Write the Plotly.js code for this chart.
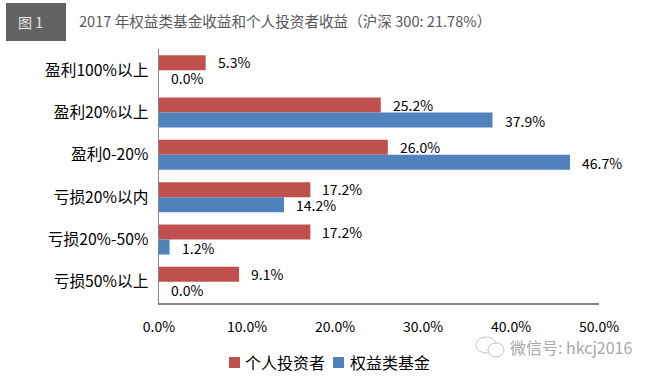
<!DOCTYPE html>
<html><head><meta charset="utf-8">
<script src="https://cdn.plot.ly/plotly-3.0.0.min.js"></script>
<style>html,body{margin:0;padding:0;background:#fff}#c{width:654px;height:377px}</style></head>
<body><div id="c"></div>
<script>
const categories = ["盈利100%以上","盈利20%以上","盈利0-20%","亏损20%以内","亏损20%-50%","亏损50%以上"];
const retail = [5.3,25.2,26.0,17.2,17.2,9.1];
const fund = [0.0,37.9,46.7,14.2,1.2,0.0];
const seriesNames = ["个人投资者","权益类基金"];
const xTicks = [0,10,20,30,40,50];
const chartTitle = "2017 年权益类基金收益和个人投资者收益（沪深 300: 21.78%）";
const badge = "图 1";
const watermark = "微信号: hkcj2016";
const font = "'Noto Sans CJK SC','Liberation Sans',sans-serif";
const RED="#C0504D", BLUE="#4F81BD";
const fmt = v => v.toFixed(1)+"%";
const labels = [];
categories.forEach((c,i)=>{
  labels.push({x:retail[i],y:c,text:fmt(retail[i]),xref:'x',yref:'y',xanchor:'left',yanchor:'middle',showarrow:false,xshift:10,yshift:8,font:{size:14,color:'#000',family:font}});
  labels.push({x:fund[i],y:c,text:fmt(fund[i]),xref:'x',yref:'y',xanchor:'left',yanchor:'middle',showarrow:false,xshift:10,yshift:-8,font:{size:14,color:'#000',family:font}});
});
const data = [
 {type:'bar',orientation:'h',name:seriesNames[0],y:categories,x:retail,marker:{color:RED},hoverinfo:'none'},
 {type:'bar',orientation:'h',name:seriesNames[1],y:categories,x:fund,marker:{color:BLUE},hoverinfo:'none'}
];
const box = {xref:'x domain',yref:'y domain',xsizemode:'pixel',ysizemode:'pixel',xanchor:0};
const legendText = (name,px) => ({xref:'paper',yref:'paper',x:(px-159)/440,y:(372-362)/323,xanchor:'left',yanchor:'middle',text:name,showarrow:false,font:{size:16,color:'#000',family:font}});
const layout = {
 width:654,height:377,paper_bgcolor:'#fff',plot_bgcolor:'#fff',
 margin:{l:159,r:55,t:49,b:5,autoexpand:false},
 barmode:'group',bargap:0.29,bargroupgap:0,showlegend:false,
 font:{family:font,size:14,color:'#000'},
 xaxis:{range:[0,50],tickvals:xTicks,ticktext:xTicks.map(fmt),showgrid:false,zeroline:false,showline:true,linecolor:'#868686',linewidth:1.5,ticks:'',tickfont:{size:14,family:font},ticklabelstandoff:11},
 yaxis:{domain:[0.2136,1],type:'category',autorange:'reversed',categoryorder:'array',categoryarray:categories,showgrid:false,zeroline:false,showline:true,linecolor:'#868686',linewidth:1.5,ticks:'',tickfont:{size:15.7,family:font},ticklabelstandoff:6},
 shapes:[
  {...box,type:'rect',layer:'below',yanchor:1,x0:-153,x1:-93,y0:46,y1:8,fillcolor:'#636363',line:{width:0}},
  {...box,type:'rect',yanchor:0,x0:70,x1:81,y0:-54,y1:-65,fillcolor:RED,line:{width:0}},
  {...box,type:'rect',yanchor:0,x0:174,x1:185,y0:-54,y1:-65,fillcolor:BLUE,line:{width:0}},
  {...box,type:'circle',layer:'above',yanchor:0,x0:317,x1:337,y0:-34,y1:-50,fillcolor:'#fff',line:{color:'#c4c4c4',width:1}},
  {...box,type:'circle',layer:'above',yanchor:0,x0:329,x1:345,y0:-40,y1:-54,fillcolor:'#fff',line:{color:'#c4c4c4',width:1}}
 ],
 annotations:labels.concat([
  legendText(seriesNames[0],243),
  legendText(seriesNames[1],348),
  {xref:'paper',yref:'paper',x:-0.291,y:1.0836,xanchor:'center',yanchor:'middle',text:badge,showarrow:false,font:{size:14,color:'#e6e6e6',family:font}},
  {xref:'paper',yref:'paper',x:0,y:1.0867,xanchor:'left',yanchor:'middle',xshift:-82,text:chartTitle,showarrow:false,font:{size:14.6,color:'#595959',family:font}},
  {xref:'paper',yref:'paper',x:1.0795,y:0.077,xanchor:'right',yanchor:'middle',text:watermark,showarrow:false,font:{size:16,color:'#a8a8a8',family:font}}
 ])
};
Plotly.newPlot('c',data,layout,{displayModeBar:false,staticPlot:true});
</script></body></html>
